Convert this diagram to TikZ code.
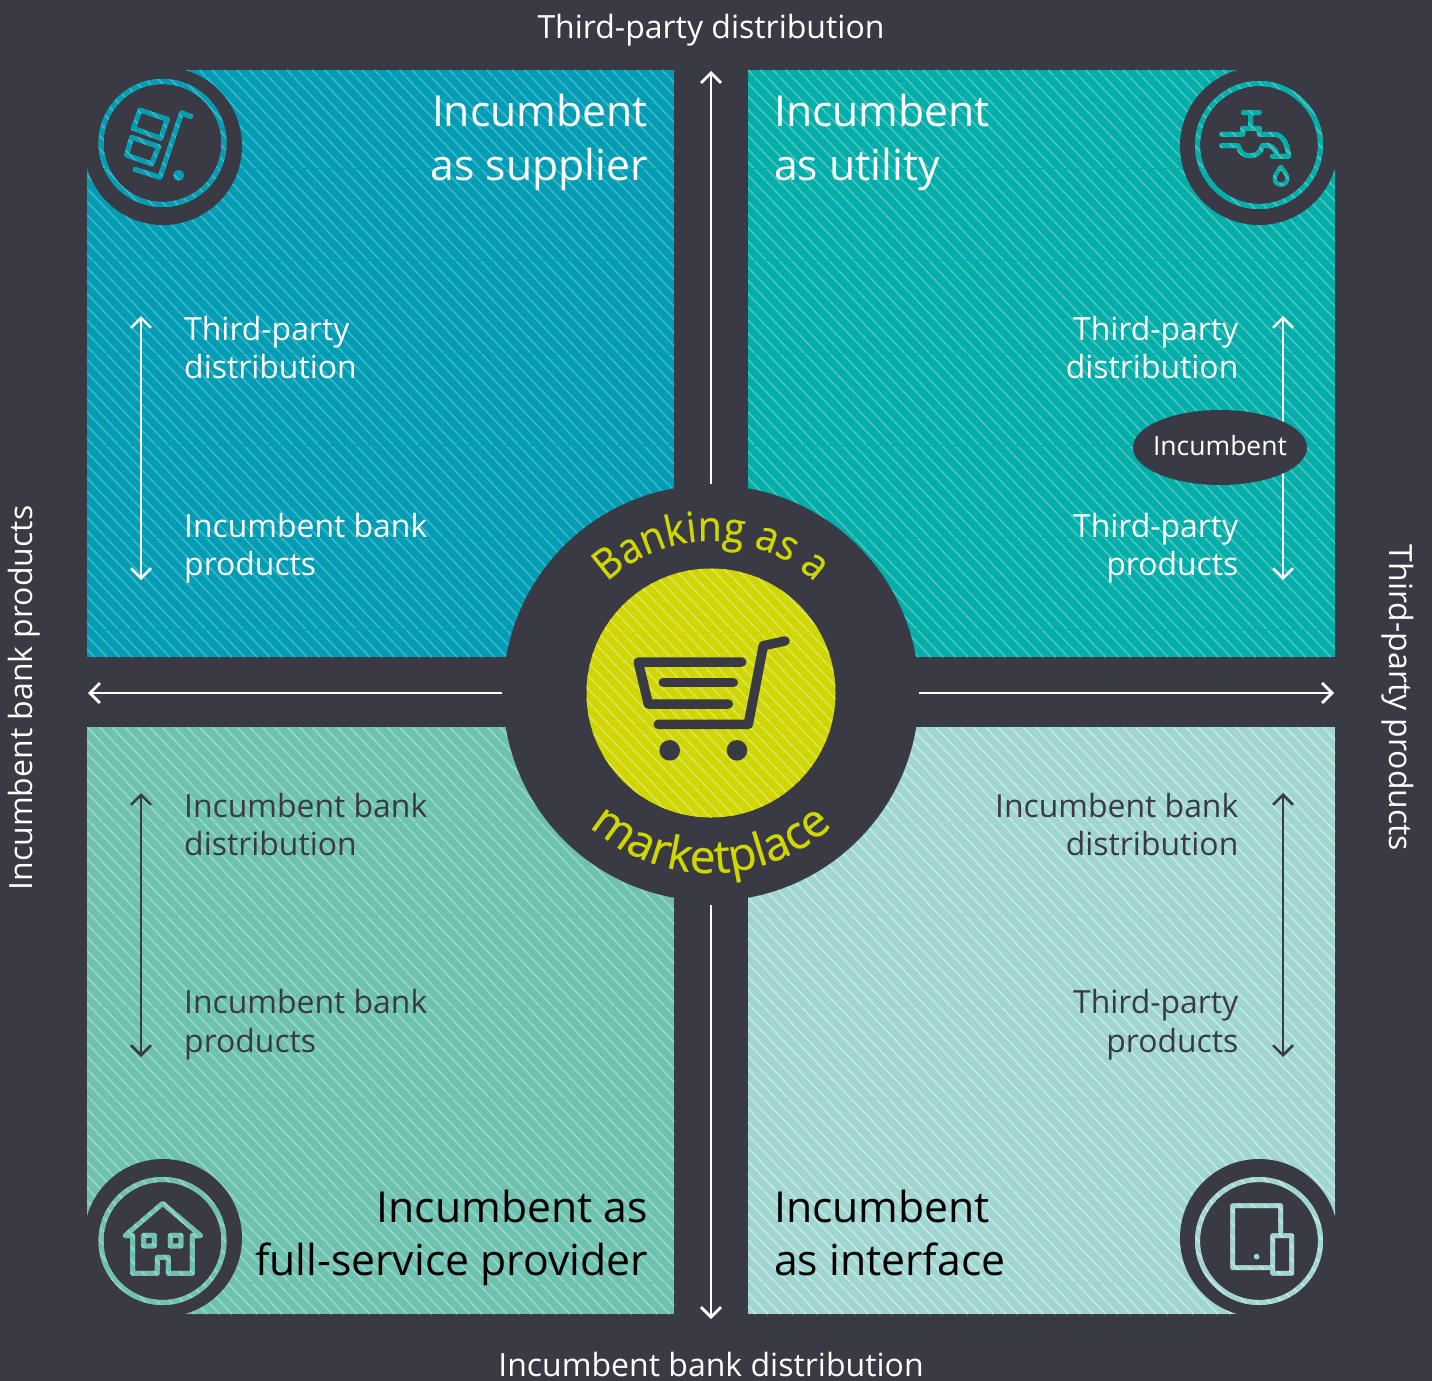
\documentclass[tikz,border=0pt]{standalone}
\usepackage{fontspec}
\setmainfont{Open Sans}
\newfontfamily\arcfont{Open Sans}[FakeStretch=0.93,FakeBold=0.5]
\newfontfamily\arcfontb{Open Sans}[FakeBold=0.5]
\usetikzlibrary{arrows.meta,decorations.text}
\definecolor{dark}{HTML}{3A3A44}
\definecolor{qa}{HTML}{009DB5}\definecolor{qas}{HTML}{3DB4C8}
\definecolor{qb}{HTML}{00AEAA}\definecolor{qbs}{HTML}{4DC1BE}
\definecolor{qc}{HTML}{6EC2B0}\definecolor{qcs}{HTML}{9AD4C7}
\definecolor{qd}{HTML}{9FD6D1}\definecolor{qds}{HTML}{C6E6E3}
\definecolor{lime}{HTML}{CFD600}\definecolor{limes}{HTML}{DDE355}
\tikzset{
  title/.style={font=\fontsize{42.7}{50}\selectfont,inner sep=0pt},
  lab/.style={font=\fontsize{31.9}{38}\selectfont,inner sep=0pt},
  outer/.style={font=\fontsize{32}{38}\selectfont,inner sep=0pt,text=white},
  bigarrow/.style={white,line width=2.8pt,-{Straight Barb[length=10pt,width=20pt,line width=2.8pt]}},
  whitearrow/.style={white,line width=2.5pt,{Straight Barb[length=10pt,width=20pt,line width=2.5pt]}-{Straight Barb[length=10pt,width=20pt,line width=2.5pt]}},
  darkarrow/.style={whitearrow,dark},
  ico/.style={draw=icocol,line width=4.7pt,line join=round,line cap=round},
  zoomed/.style={x=.33333pt,y=-.33333pt},
  cartline/.style={dark,line width=9.5pt,line join=round,line cap=round}
}
% hatched square
\newcommand\hatchrect[7]{%
  \fill[#5] (#1,#2) rectangle (#3,#4);
  \begin{scope}
    \clip (#1,#2) rectangle (#3,#4);
    \draw[#6,line width=1.7pt]
      \foreach \s in {-600,-587.5,...,620} { (#1+\s,#2) -- (#1+\s+#4*.95-#2*.95,#4) };
    \draw[#5,line width=.9pt]
      \foreach \t in {#7} { (#1,\t) -- (#3,\t) };
  \end{scope}}
% badge whose ring and icon let the hatch show through
\newcommand\badgelayer[7]{% mode, col, disc x,y, corner x,y, content
  \colorlet{icocol}{#2}
  \begin{scope}[blend mode=#1]
  \begin{scope}[transparency group]
    \fill[dark] (#3,#4) circle[radius=79pt];
    \fill[dark] (#3,#4) rectangle (#5,#6);
    #7
  \end{scope}
  \end{scope}}
\newcommand\badge[5]{%
  \badgelayer{lighten}{black}{#1}{#2}{#3}{#4}{#5}
  \badgelayer{darken}{white}{#1}{#2}{#3}{#4}{#5}}
\newcommand\ringat[2]{\draw[icocol,line width=5pt] (#1,#2) circle[radius=61.5pt];}
\begin{document}
\begin{tikzpicture}[x=1pt,y=-1pt]
\useasboundingbox (0,0) rectangle (1432,1381);
\fill[dark] (0,0) rectangle (1432,1381);
% quadrants
\hatchrect{87}{70}{674}{657}{qa}{qas}{76,168,260,353,445,537,629}
\hatchrect{748}{70}{1335}{657}{qb}{qbs}{76,168,260,353,445,537,629}
\hatchrect{87}{727}{674}{1314}{qc}{qcs}{822,914,1006,1098,1190,1282}
\hatchrect{748}{727}{1335}{1314}{qd}{qds}{822,914,1006,1098,1190,1282}
% badges
\badge{163}{146}{84}{67}{\ringat{162.5}{143}
  \begin{scope}[shift={(80,60)},zoomed]
    \draw[ico] (180,150)--(262,178)--(242,235)--(160,205)--cycle;
    \draw[ico] (155,232)--(236,260)--(215,312)--(140,285)--cycle;
    \draw[ico] (332,170)--(305,158)--(240,352)--(165,328);
    \fill[icocol] (296,346) circle[radius=5.3pt];
  \end{scope}}
\badge{1259}{146}{1338}{67}{\ringat{1259}{145}
  \begin{scope}[shift={(1170,60)},zoomed]
    \draw[ico] (220,158)--(268,158) (242,158)--(242,200);
    \draw[ico] (155,223)--(218,223)--(218,205)--(268,205)--(268,223)--(312,223) .. controls (338,223) and (352,250) .. (356,289)--(307,289);
    \draw[ico] (155,257)--(205,257) .. controls (210,298) and (270,298) .. (277,257) .. controls (300,250) and (318,265) .. (322,289);
    \draw[ico,line width=3.8pt] (333,320) .. controls (320,338) and (314,346) .. (314,356) .. controls (314,380) and (352,380) .. (352,356) .. controls (352,346) and (346,338) .. (333,320) -- cycle;
  \end{scope}}
\badge{163}{1238}{84}{1317}{\ringat{162.5}{1241}
  \begin{scope}[shift={(80,1150)},zoomed]
    \draw[ico] (158,257)--(135,257)--(248,160)--(362,257)--(337,257);
    \draw[ico] (158,257)--(158,370)--(232,370)--(232,322)--(265,322)--(265,370)--(337,370)--(337,257);
    \draw[ico] (191,256) rectangle (223,288);
    \draw[ico] (271,256) rectangle (303,288);
  \end{scope}}
\badge{1259}{1238}{1338}{1317}{\ringat{1259}{1241}
  \begin{scope}[shift={(1170,1150)},zoomed]
    \draw[ico] (332,245)--(332,167)--(188,167)--(188,353)--(305,353);
    \draw[ico] (308,257) rectangle (365,370);
    \fill[icocol] (260,320) circle[radius=2.8pt];
  \end{scope}}
% centre
\fill[dark] (711,693) circle[radius=208pt];
\begin{scope}
  \clip (711,693) circle[radius=124.5pt];
  \hatchrect{586}{568}{836}{818}{lime}{limes}{632,725}
\end{scope}
\begin{scope}[cartline]
  \draw (741.7,662)--(638.3,662)--(648.3,704)--(728.3,704);
  \draw (663.3,682.7)--(733.3,682.7);
  \draw (785,641)--(763.3,645.7)--(748.3,724.3)--(658.3,724.3);
  \fill (669.7,750.3) circle[radius=10.3pt];
  \fill (737,750.3) circle[radius=10.3pt];
\end{scope}
\path[decorate,decoration={text along path,text align=center,
   text={|\arcfont\fontsize{42}{42}\selectfont\color{lime}|Banking as a}}]
   (561.3,666.6) arc[start angle=170,end angle=10,radius=152pt];
\path[decorate,decoration={text along path,text align=center,
   text={|\arcfontb\fontsize{46}{46}\selectfont\color{lime}|marketplace}}]
   (533.7,724.3) arc[start angle=190,end angle=350,radius=180pt];
% long arrows
\coordinate (ntop) at (711,71); \coordinate (ntopin) at (711,484);
\coordinate (nbot) at (711,1319); \coordinate (nbotin) at (711,905);
\coordinate (nleft) at (88,693); \coordinate (nleftin) at (502,693);
\coordinate (nright) at (1334,693); \coordinate (nrightin) at (919,693);
\draw[bigarrow] (ntopin)--(ntop);
\draw[bigarrow] (nbotin)--(nbot);
\draw[bigarrow] (nleftin)--(nleft);
\draw[bigarrow] (nrightin)--(nright);
% small arrows
\coordinate (a1) at (141,316); \coordinate (a2) at (141,580);
\coordinate (b1) at (1283,316); \coordinate (b2) at (1283,580);
\coordinate (c1) at (141,793); \coordinate (c2) at (141,1057);
\coordinate (d1) at (1283,793); \coordinate (d2) at (1283,1057);
\draw[whitearrow] (a1)--(a2);
\draw[whitearrow] (b1)--(b2);
\draw[darkarrow] (c1)--(c2);
\draw[darkarrow] (d1)--(d2);
% incumbent ellipse
\fill[dark] (1220,447.5) ellipse[x radius=87pt,y radius=37.5pt];
\node[inner sep=0pt,text=white,anchor=base,font=\fontsize{26.5}{30}\selectfont] (inc) at (1220,455) {Incumbent};
% outer labels
\node[outer,anchor=base] (ot) at (711,39) {Third-party distribution};
\node[outer,anchor=base] (ob) at (711,1376) {Incumbent bank distribution};
\node[outer,anchor=base,rotate=90] (ol) at (32,698) {Incumbent bank products};
\node[outer,anchor=base,rotate=-90] (or) at (1389,698) {Third-party products};
% titles
\node[title,text=white,anchor=base east] (t1) at (648,126) {Incumbent};
\node[title,text=white,anchor=base east] (t2) at (648,180) {as supplier};
\node[title,text=white,anchor=base west] (t3) at (774,126) {Incumbent};
\node[title,text=white,anchor=base west] (t4) at (774,180) {as utility};
\node[title,text=black,anchor=base east] (t5) at (648,1222) {Incumbent as};
\node[title,text=black,anchor=base east] (t6) at (648,1275) {full-service provider};
\node[title,text=black,anchor=base west] (t7) at (774,1222) {Incumbent};
\node[title,text=black,anchor=base west] (t8) at (774,1275) {as interface};
% quadrant labels
\node[lab,text=white,anchor=base west] (l1) at (184,340) {Third-party};
\node[lab,text=white,anchor=base west] (l2) at (184,378) {distribution};
\node[lab,text=white,anchor=base west] (l3) at (184,537) {Incumbent bank};
\node[lab,text=white,anchor=base west] (l4) at (184,575) {products};
\node[lab,text=white,anchor=base east] (l5) at (1238.5,340) {Third-party};
\node[lab,text=white,anchor=base east] (l6) at (1238.5,378) {distribution};
\node[lab,text=white,anchor=base east] (l7) at (1238.5,537) {Third-party};
\node[lab,text=white,anchor=base east] (l8) at (1238.5,575) {products};
\node[lab,text=dark,anchor=base west] (l9) at (184,817) {Incumbent bank};
\node[lab,text=dark,anchor=base west] (l10) at (184,855) {distribution};
\node[lab,text=dark,anchor=base west] (l11) at (184,1013) {Incumbent bank};
\node[lab,text=dark,anchor=base west] (l12) at (184,1052) {products};
\node[lab,text=dark,anchor=base east] (l13) at (1238.5,817) {Incumbent bank};
\node[lab,text=dark,anchor=base east] (l14) at (1238.5,855) {distribution};
\node[lab,text=dark,anchor=base east] (l15) at (1238.5,1013) {Third-party};
\node[lab,text=dark,anchor=base east] (l16) at (1238.5,1052) {products};
\end{tikzpicture}
\end{document}
